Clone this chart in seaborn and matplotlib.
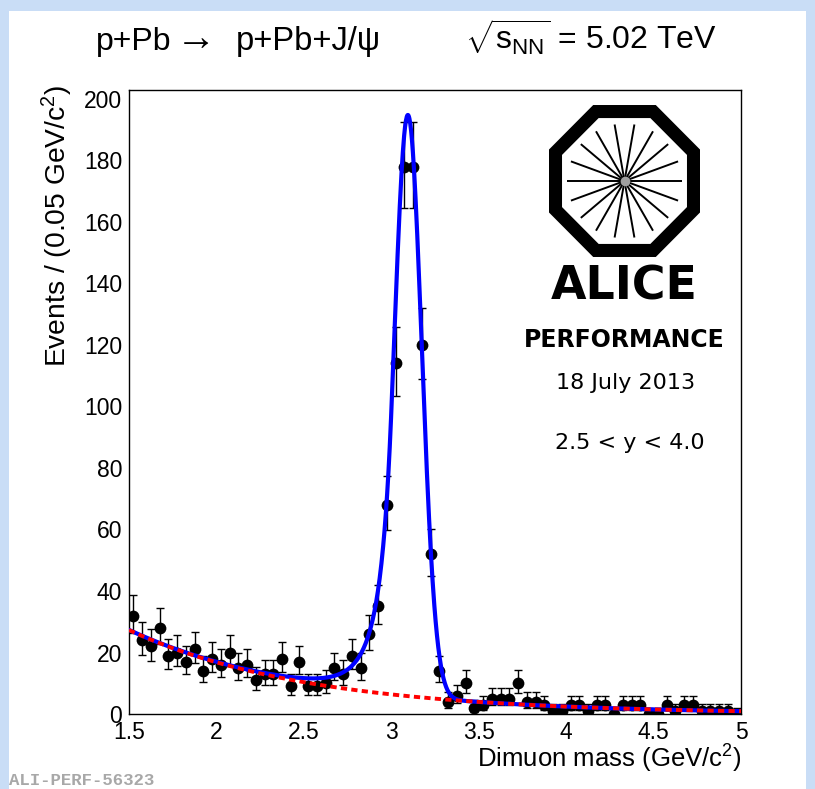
import math
import numpy as np
import pandas as pd
import matplotlib
matplotlib.use("Agg")
import matplotlib.pyplot as plt
import seaborn as sns
from matplotlib.patches import RegularPolygon, Rectangle
from matplotlib.ticker import FixedLocator, MultipleLocator, FixedFormatter

# ---------------- data ----------------
mass_lo, mass_hi, bin_width = 1.5, 5.0, 0.05
counts = [32, 24, 22, 28, 19, 20, 17, 21, 14, 18,
          16, 20, 15, 16, 11, 13, 13, 18, 9, 17,
          9, 9, 10, 15, 13, 19, 15, 26, 35, 68,
          114, 178, 178, 120, 52, 14, 4, 6, 10, 2,
          3, 5, 5, 5, 10, 4, 4, 3, 1, 1,
          3, 3, 1, 3, 3, 0, 3, 3, 3, 0,
          0, 3, 1, 3, 3, 1, 1, 1, 1, 0]

# fit parameters (exponential background + Crystal Ball)
bkg_norm, bkg_slope = 27.3, 0.97
sig_amp, sig_mean, sig_sigma = 189.0, 3.095, 0.079
cb_alpha, cb_n = 1.2, 4.0

xtick_values = [1.5, 2.0, 2.5, 3.0, 3.5, 4.0, 4.5, 5.0]
xtick_labels = ["1.5", "2", "2.5", "3", "3.5", "4", "4.5", "5"]
ytick_values = [0, 20, 40, 60, 80, 100, 120, 140, 160, 180, 200]
ytick_labels = [str(v) for v in ytick_values]

title_beam = "p+Pb"
title_arrow = "\u2192"
title_final = "p+Pb+J/\u03c8"
title_energy = r"$\sqrt{\mathregular{s_{NN}}}$" + " = 5.02 TeV"
xlabel_text = r"Dimuon mass (GeV/c$\mathregular{^{2}}$)"
ylabel_text = r"Events / (0.05 GeV/c$\mathregular{^{2}}$)"
date_text = "18 July 2013"
rap_text = "2.5 < y < 4.0"
tag_text = "ALI-PERF-56323"

# ---------------- helpers ----------------
def pois_cdf(k, mu):
    s, term = 0.0, math.exp(-mu)
    for i in range(k + 1):
        if i > 0:
            term *= mu / i
        s += term
    return s

def solve(f, lo, hi):
    for _ in range(80):
        mid = 0.5 * (lo + hi)
        if f(mid) > 0:
            lo = mid
        else:
            hi = mid
    return 0.5 * (lo + hi)

def poisson_interval(n, a=0.158655):
    hi_lim = n + 10 * math.sqrt(n + 1) + 10
    up = solve(lambda m: pois_cdf(n, m) - a, 0.0, hi_lim)
    lo = 0.0 if n == 0 else solve(lambda m: a - (1 - pois_cdf(n - 1, m)), 0.0, hi_lim)
    return n - lo, up - n

def background(x):
    return bkg_norm * np.exp(-bkg_slope * (x - mass_lo))

def crystal_ball(x):
    t = (x - sig_mean) / sig_sigma
    A = (cb_n / cb_alpha) ** cb_n * np.exp(-cb_alpha ** 2 / 2)
    B = cb_n / cb_alpha - cb_alpha
    out = np.where(t > -cb_alpha, np.exp(-0.5 * t ** 2),
                   A * np.abs(B - t) ** (-cb_n))
    return sig_amp * out

centers = mass_lo + bin_width * (np.arange(len(counts)) + 0.5)
errs = np.array([poisson_interval(n) for n in counts]).T
df = pd.DataFrame({"mass": centers, "events": counts})

xf = np.linspace(mass_lo, mass_hi, 1400)
curve = pd.DataFrame({"mass": xf, "total": background(xf) + crystal_ball(xf),
                      "bkg": background(xf)})

# ---------------- figure ----------------
sns.set_style("white")
plt.rcParams["font.family"] = ["Liberation Sans", "DejaVu Sans"]
plt.rcParams["mathtext.fontset"] = "custom"
plt.rcParams["mathtext.rm"] = "Liberation Sans"
plt.rcParams["mathtext.it"] = "Liberation Sans:italic"
plt.rcParams["mathtext.bf"] = "Liberation Sans:bold"
plt.rcParams["text.color"] = "black"
plt.rcParams["xtick.color"] = "black"
plt.rcParams["ytick.color"] = "black"
plt.rcParams["axes.labelcolor"] = "black"

W, H = 815, 789
fig = plt.figure(figsize=(W / 100, H / 100), dpi=100)
fig.patch.set_facecolor("#c9ddf6")
fig.patches.append(Rectangle((9 / W, 0), (806 - 9) / W, 1 - 11 / H,
                             transform=fig.transFigure, facecolor="white",
                             edgecolor="none", zorder=-5))

ax_l, ax_r, ax_t, ax_b = 129, 741, 90, 714
ax = fig.add_axes([ax_l / W, 1 - ax_b / H, (ax_r - ax_l) / W, (ax_b - ax_t) / H])
ax.set_facecolor("white")

ax.errorbar(df["mass"], df["events"], yerr=errs, fmt="none", ecolor="black",
            elinewidth=1.0, capsize=3.2, capthick=1.0, zorder=2)
sns.scatterplot(data=df, x="mass", y="events", ax=ax, color="black", s=72,
                edgecolor="black", linewidth=0, zorder=3, legend=False)
sns.lineplot(data=curve, x="mass", y="total", ax=ax, color="#0000ff", lw=3.0,
             estimator=None, sort=False, zorder=4)
sns.lineplot(data=curve, x="mass", y="bkg", ax=ax, color="#ff0000", lw=2.8,
             estimator=None, sort=False, zorder=5)
ax.lines[-1].set_dashes((1.6, 1.1))

ax.set_xlim(mass_lo, mass_hi)
ax.set_ylim(0, (ax_b - ax_t) / 3.075)
ax.xaxis.set_major_locator(FixedLocator(xtick_values))
ax.xaxis.set_major_formatter(FixedFormatter(xtick_labels))
ax.xaxis.set_minor_locator(MultipleLocator(0.1))
ax.yaxis.set_major_locator(FixedLocator(ytick_values))
ax.yaxis.set_major_formatter(FixedFormatter(ytick_labels))
ax.yaxis.set_minor_locator(MultipleLocator(5))
ax.tick_params(which="both", direction="in", top=False, right=False,
               colors="black", width=1.0)
ax.tick_params(which="major", length=13, labelsize=16.5, pad=5)
ax.tick_params(which="minor", length=6)
ax.set_xlabel("")
ax.set_ylabel("")
for sp in ax.spines.values():
    sp.set_visible(True)
    sp.set_color("black")
    sp.set_linewidth(1.0)

ty = 1 - 50 / H
fig.text(96 / W, ty, title_beam, ha="left", va="baseline", fontsize=23)
fig.text(196 / W, ty, title_arrow, ha="center", va="baseline", fontsize=29,
         family="Liberation Sans")
fig.text(308 / W, ty, title_final, ha="center", va="baseline", fontsize=23.5)
fig.text(717 / W, ty, title_energy, ha="right", va="baseline", fontsize=23)
fig.text(742 / W, 1 - 768 / H, xlabel_text, ha="right", va="baseline", fontsize=18.5)
fig.text(57 / W, 1 - 85 / H, ylabel_text, ha="center", va="top", rotation=90, fontsize=20.3)

# ALICE logo
lax = fig.add_axes([549 / W, 1 - 257 / H, 151 / W, 152 / H])
lax.set_xlim(-1, 1)
lax.set_ylim(-1, 1)
lax.axis("off")
oct_ap = 1 - (6.5 / 75.5)
lax.add_patch(RegularPolygon((0, 0), numVertices=8, radius=oct_ap / math.cos(math.pi / 8),
                             orientation=math.pi / 8, facecolor="none",
                             edgecolor="black", linewidth=9.4, joinstyle="miter"))
for k in range(9):
    a = math.radians(20 * k)
    r = 0.755
    lax.plot([-r * math.cos(a), r * math.cos(a)], [-r * math.sin(a), r * math.sin(a)],
             color="black", lw=1.4, solid_capstyle="butt")
lax.plot([0], [0], "o", color="#a0a0a0", ms=7, mec="none")

fig.text(624.5 / W, 1 - 300 / H, "ALICE", ha="center", va="baseline", fontsize=33,
         family="DejaVu Sans", weight="bold")
fig.text(624.5 / W, 1 - 347 / H, "PERFORMANCE", ha="center", va="baseline", fontsize=17,
         family="DejaVu Sans", weight="bold")
fig.text(626 / W, 1 - 389 / H, date_text, ha="center", va="baseline", fontsize=16,
         family="DejaVu Sans")
fig.text(630 / W, 1 - 449 / H, rap_text, ha="center", va="baseline", fontsize=16,
         family="DejaVu Sans")
fig.text(9 / W, 1 - 785 / H, tag_text, ha="left", va="baseline", fontsize=12.5,
         family="Liberation Mono", weight="bold", color="#a8a8a8")

fig.savefig("out.png", dpi=100, facecolor=fig.get_facecolor())
